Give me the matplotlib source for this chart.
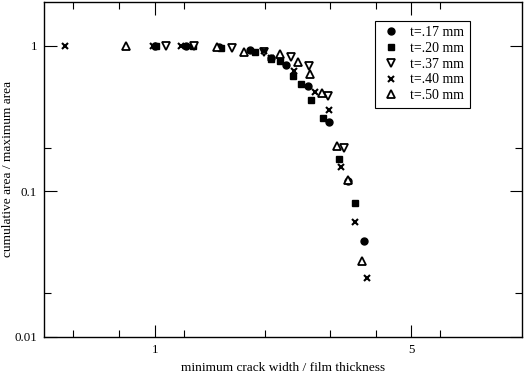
import numpy as np
import matplotlib.pyplot as plt
from matplotlib.ticker import FixedLocator, NullFormatter, FixedFormatter

plt.rcParams['font.family'] = ['Liberation Serif', 'DejaVu Serif']

# data: (crack width / thickness, cumulative area / max area)
x17 = [1.00, 1.22, 1.50, 1.82, 2.07, 2.28, 2.62, 2.99, 3.36, 3.72]
y17 = [1.00, 1.00, 0.98, 0.93, 0.83, 0.74, 0.53, 0.30, 0.117, 0.0455]

x20 = [1.01, 1.27, 1.52, 1.88, 2.08, 2.19, 2.38, 2.51, 2.67, 2.88, 3.17, 3.52]
y20 = [1.00, 0.99, 0.97, 0.90, 0.81, 0.78, 0.62, 0.55, 0.425, 0.318, 0.166, 0.083]

x37 = [1.075, 1.28, 1.62, 1.98, 2.35, 2.63, 2.96, 3.28]
y37 = [1.00, 0.99, 0.97, 0.91, 0.84, 0.73, 0.455, 0.199]

x40 = [0.571, 0.99, 1.18, 1.98, 2.08, 2.40, 2.74, 2.99, 3.21, 3.52, 3.79]
y40 = [1.00, 1.00, 1.00, 0.92, 0.82, 0.67, 0.48, 0.36, 0.148, 0.0616, 0.0252]

x50 = [0.838, 1.48, 1.75, 2.20, 2.46, 2.65, 2.86, 3.13, 3.36, 3.66]
y50 = [1.00, 0.98, 0.90, 0.88, 0.77, 0.64, 0.47, 0.206, 0.12, 0.0333]

labels = ['t=.17 mm', 't=.20 mm', 't=.37 mm', 't=.40 mm', 't=.50 mm']

fig = plt.figure(figsize=(5.25, 3.82), dpi=100)
ax = fig.add_axes([0.084, 0.118, 0.91, 0.877])

ax.plot(x17, y17, 'o', color='k', ms=5, label=labels[0])
ax.plot(x20, y20, 's', color='k', ms=4.5, label=labels[1])
ax.plot(x37, y37, 'v', mfc='white', mec='k', mew=1.3, ms=6, label=labels[2])
ax.plot(x40, y40, 'x', color='k', mew=1.5, ms=4.5, label=labels[3])
ax.plot(x50, y50, '^', mfc='white', mec='k', mew=1.3, ms=6, label=labels[4])

ax.set_xscale('log')
ax.set_yscale('log')
ax.set_xlim(0.5, 10)
ax.set_ylim(0.01, 2)

ax.xaxis.set_major_locator(FixedLocator([1, 5]))
ax.xaxis.set_major_formatter(FixedFormatter(['1', '5']))
ax.xaxis.set_minor_locator(FixedLocator([0.6, 0.8, 1.2, 2, 3, 4, 6]))
ax.xaxis.set_minor_formatter(NullFormatter())
ax.yaxis.set_major_locator(FixedLocator([0.01, 0.1, 1]))
ax.yaxis.set_major_formatter(FixedFormatter(['0.01', '0.1', '1']))
ax.yaxis.set_minor_locator(FixedLocator([0.02, 0.2]))
ax.yaxis.set_minor_formatter(NullFormatter())

ax.tick_params(which='both', direction='in', top=True, right=True, labelsize=9.3, width=0.8)
ax.tick_params(which='major', length=9, pad=5)
ax.tick_params(which='minor', length=5)
for s in ax.spines.values():
    s.set_linewidth(1.0)

ax.set_xlabel('minimum crack width / film thickness', fontsize=9.6)
ax.set_ylabel('cumulative area / maximum area', fontsize=9.6)
ax.xaxis.set_label_coords(0.5, -0.075)
ax.yaxis.set_label_coords(-0.062, 0.5)

leg = ax.legend(loc='upper right', bbox_to_anchor=(0.905, 0.965), fontsize=10,
                frameon=True, fancybox=False, edgecolor='k', framealpha=1,
                handletextpad=0.6, labelspacing=0.2, borderpad=0.4, handlelength=1.5)
leg.get_frame().set_linewidth(0.8)

fig.savefig('out.png', dpi=100)
